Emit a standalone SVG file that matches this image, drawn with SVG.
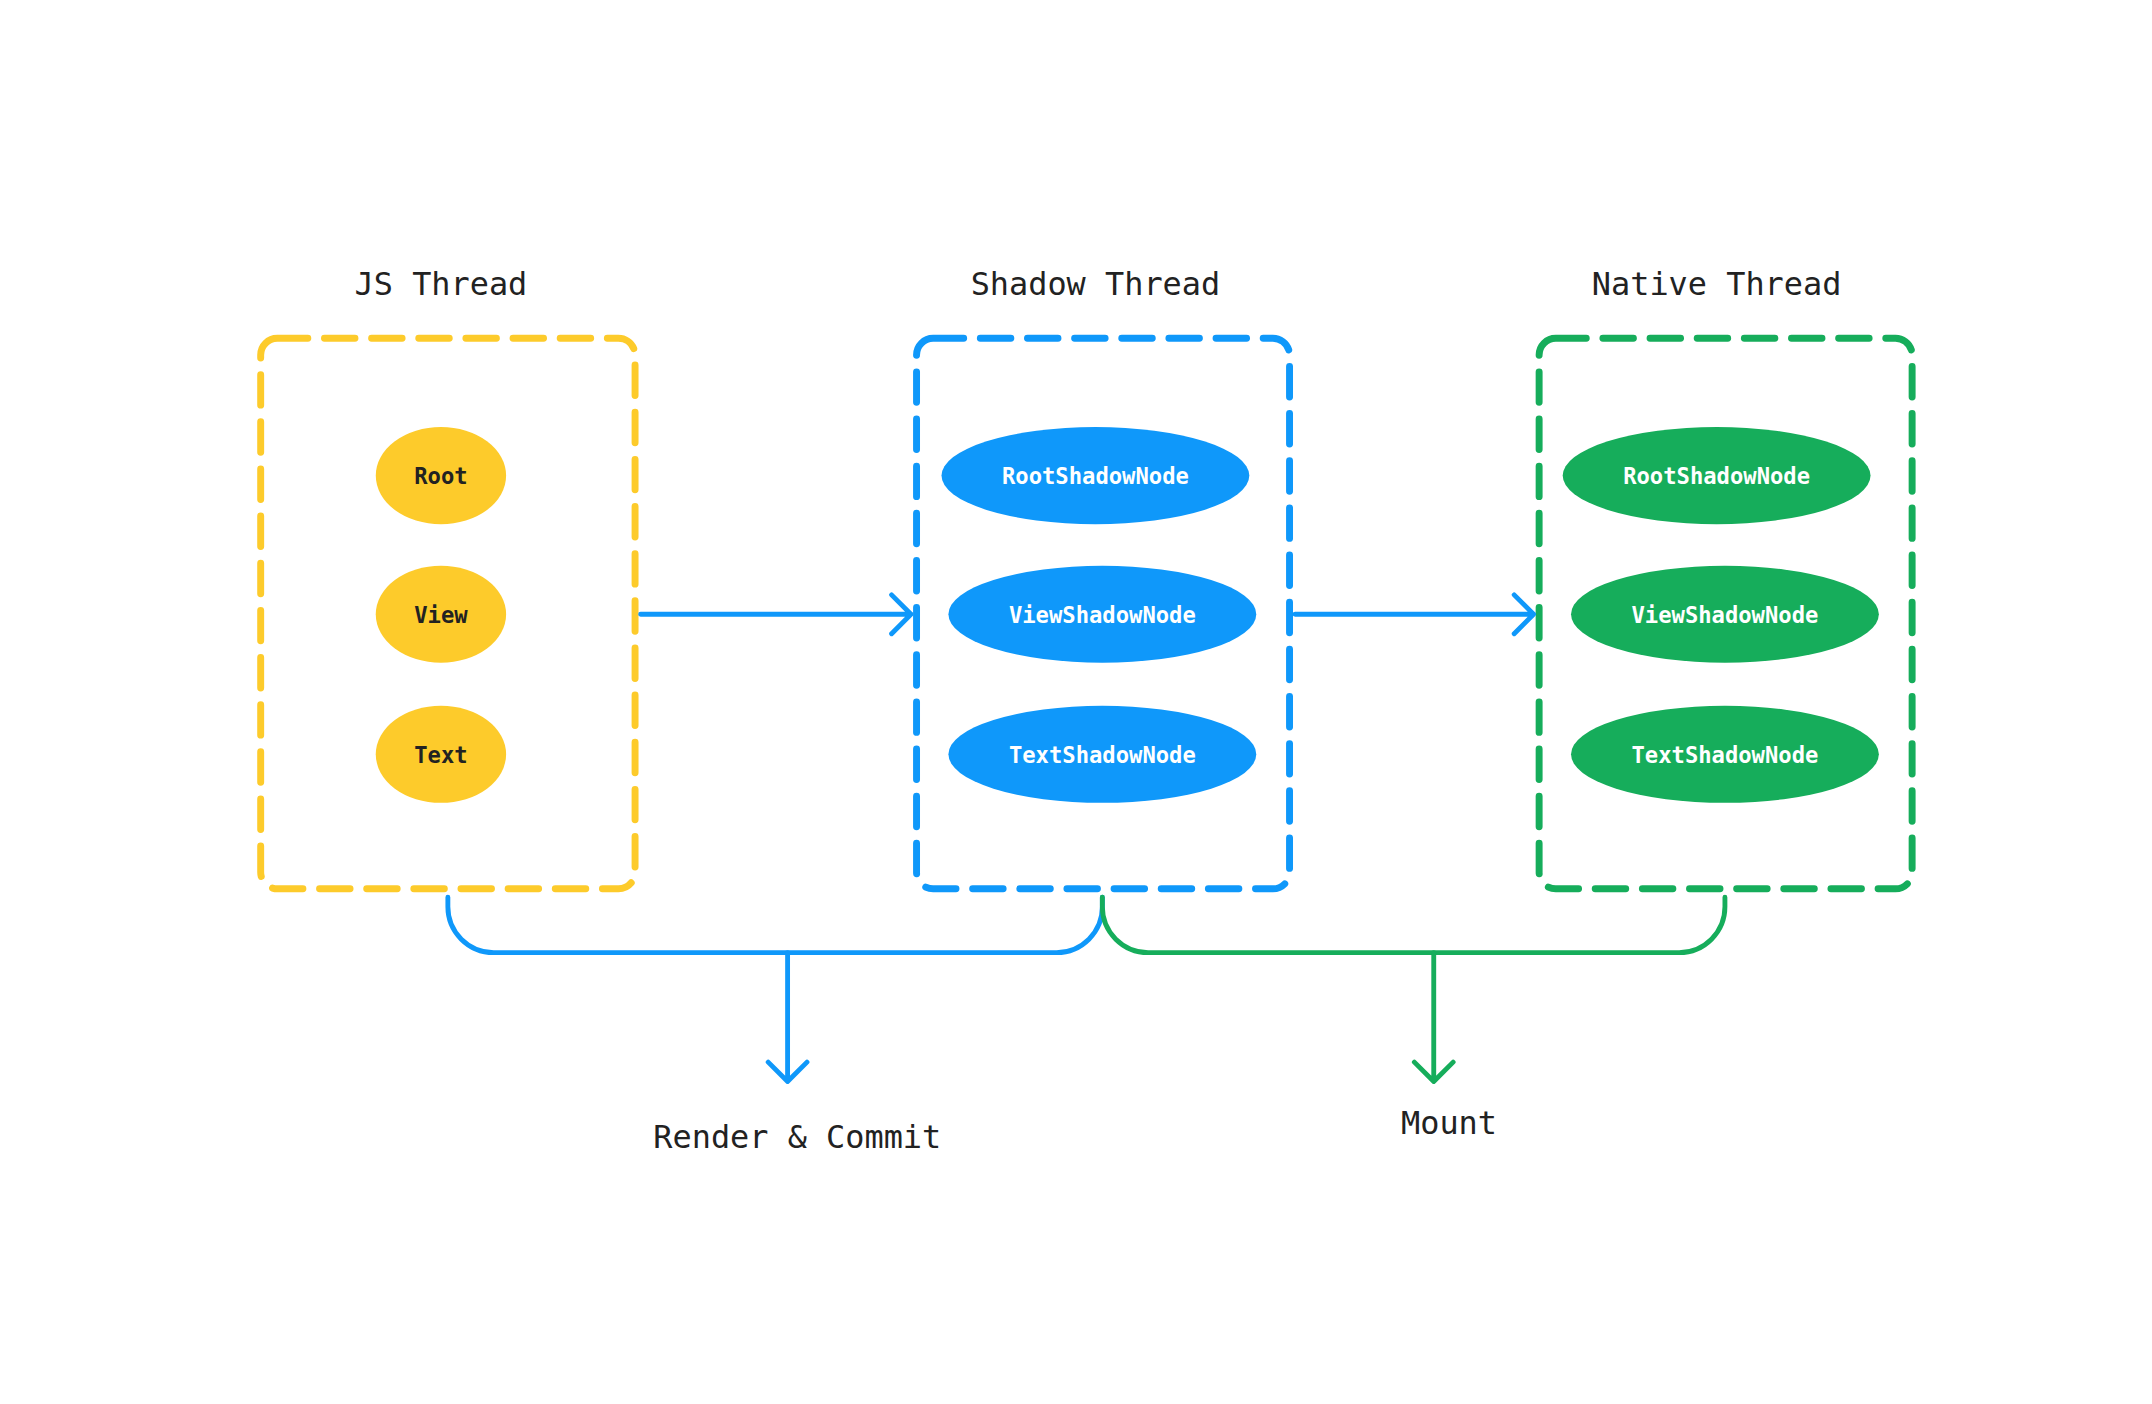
<svg xmlns="http://www.w3.org/2000/svg" width="2152" height="1404" viewBox="0 0 2152 1404">
<style>
.t{font-family:"DejaVu Sans Mono","Liberation Mono",monospace;fill:#222;text-anchor:middle}
.title{font-size:23px;font-weight:500}
.n{font-size:16px;font-weight:bold}
.box{fill:none;stroke-width:5;stroke-dasharray:22 12;stroke-linecap:round}
.w{fill:#fff}
.ln{fill:none;stroke-width:3.5;stroke-linecap:round;stroke-linejoin:round}
</style>
<rect width="2152" height="1404" fill="#fff"/>
<g transform="scale(1.3866)">
<g id="js">
<text class="t title" x="318" y="213">JS Thread</text>
<rect class="box" x="188" y="244" width="270" height="397" rx="12" stroke="#FDCB2B"/>
<g id="js-root"><ellipse cx="318" cy="343" rx="47" ry="35" fill="#FDCB2B"/><text class="t n" x="318" y="349">Root</text></g>
<g id="js-view"><ellipse cx="318" cy="443" rx="47" ry="35" fill="#FDCB2B"/><text class="t n" x="318" y="449">View</text></g>
<g id="js-text"><ellipse cx="318" cy="544" rx="47" ry="35" fill="#FDCB2B"/><text class="t n" x="318" y="550">Text</text></g>
</g>
<g id="shadow">
<text class="t title" x="790" y="213">Shadow Thread</text>
<rect class="box" x="661" y="244" width="269" height="397" rx="12" stroke="#0F98FA"/>
<g id="sh-root"><ellipse cx="790" cy="343" rx="111" ry="35" fill="#0F98FA"/><text class="t n w" x="790" y="349">RootShadowNode</text></g>
<g id="sh-view"><ellipse cx="795" cy="443" rx="111" ry="35" fill="#0F98FA"/><text class="t n w" x="795" y="449">ViewShadowNode</text></g>
<g id="sh-text"><ellipse cx="795" cy="544" rx="111" ry="35" fill="#0F98FA"/><text class="t n w" x="795" y="550">TextShadowNode</text></g>
</g>
<g id="native">
<text class="t title" x="1238" y="213">Native Thread</text>
<rect class="box" x="1110" y="244" width="269" height="397" rx="12" stroke="#16AD5B"/>
<g id="na-root"><ellipse cx="1238" cy="343" rx="111" ry="35" fill="#16AD5B"/><text class="t n w" x="1238" y="349">RootShadowNode</text></g>
<g id="na-view"><ellipse cx="1244" cy="443" rx="111" ry="35" fill="#16AD5B"/><text class="t n w" x="1244" y="449">ViewShadowNode</text></g>
<g id="na-text"><ellipse cx="1244" cy="544" rx="111" ry="35" fill="#16AD5B"/><text class="t n w" x="1244" y="550">TextShadowNode</text></g>
</g>
<g id="connectors">
<path class="ln" stroke="#0F98FA" d="M462 443H657M643 429L657 443L643 457"/>
<path class="ln" stroke="#0F98FA" d="M934 443H1106M1092 429L1106 443L1092 457"/>
<path class="ln" stroke="#0F98FA" d="M323 647V654A33 33 0 0 0 356 687H762A33 33 0 0 0 795 654V647"/>
<path class="ln" stroke="#0F98FA" d="M568 687V780M554 766L568 780L582 766"/>
<path class="ln" stroke="#16AD5B" d="M795 647V654A33 33 0 0 0 828 687H1211A33 33 0 0 0 1244 654V647"/>
<path class="ln" stroke="#16AD5B" d="M1034 687V780M1020 766L1034 780L1048 766"/>
</g>
<text class="t title" x="575" y="828">Render &amp; Commit</text>
<text class="t title" x="1045" y="818">Mount</text>
</g>
</svg>
